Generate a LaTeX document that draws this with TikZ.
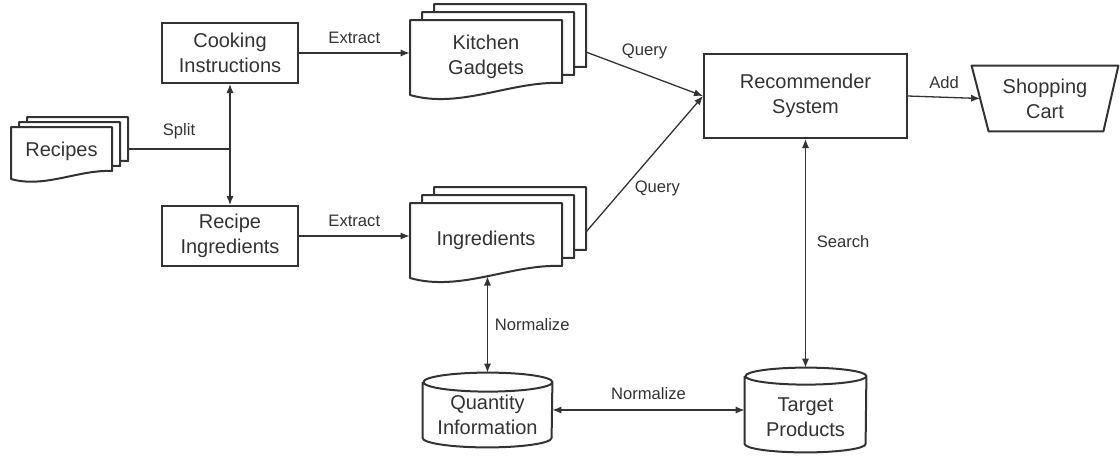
\documentclass[tikz,border=0pt]{standalone}
\usepackage{fontspec}
\setmainfont{Liberation Sans}
\usetikzlibrary{arrows.meta,calc,positioning}

\definecolor{ink}{HTML}{333333}
\newcommand{\boxfont}{\fontsize{10}{12.5}\selectfont}
\newcommand{\edgefont}{\fontsize{8.3}{10}\selectfont}

% one page of a document stack: x0, top, width, right side, wave rise
\newcommand{\docpage}[5]{%
  \draw[page] ({#1},{-(#2)}) -- ({#1+#3},{-(#2)}) -- ({#1+#3},{-(#2)-#4})
    .. controls ({#1+0.67*#3},{-(#2)-#4+0.2*#5}) and ({#1+0.33*#3},{-(#2)-#4-2.2*#5})
    .. ({#1},{-(#2)-#4-#5}) -- cycle;}

% database drum round a node: name, x radius, y radius
\newcommand{\dbshape}[3]{%
  \draw[page] ([yshift=-#3]#1.north west) -- ([yshift=#3]#1.south west)
    arc[start angle=180,end angle=360,x radius=#2,y radius=#3]
    -- ([yshift=-#3]#1.north east)
    arc[start angle=0,end angle=180,x radius=#2,y radius=#3]
    arc[start angle=180,end angle=360,x radius=#2,y radius=#3];}

\tikzset{
  page/.style={draw=ink, line width=1pt, fill=white, line join=round},
  box/.style={draw=ink, line width=1pt, text=ink, align=center, font=\boxfont,
    minimum width=68pt, minimum height=30pt, inner sep=0pt},
  txt/.style={text=ink, align=center, font=\boxfont, inner sep=0pt},
  flow/.style={draw=ink, line width=0.65pt, ->},
  lbl/.style={text=ink, font=\edgefont},
}

\begin{document}
\begin{tikzpicture}[x=0.5pt,y=0.5pt,>={Latex[length=4.5pt,width=3.6pt]}]
\useasboundingbox (0,0) rectangle (1120,-457);

% document stacks
\foreach \k in {2,1,0} {\docpage{11+8*\k}{127-5*\k}{101}{44}{8}}
\node[txt, minimum width=50.5pt] (recipes) at (61.5,-151) {Recipes};
\coordinate (recback) at (128,-149);

\foreach \k in {2,1,0} {\docpage{410+12*\k}{20-8*\k}{152}{63}{12}}
\node[txt, minimum width=76pt] (gadgets) at (486,-57) {Kitchen\\Gadgets};
\coordinate (gadback) at (586,-52);

\foreach \k in {2,1,0} {\docpage{410+12*\k}{203-8*\k}{152}{63}{12}}
\node[txt, minimum width=76pt] (ingr) at (486,-240) {Ingredients};
\coordinate (ingrback) at (586,-232);
\coordinate (ingrbot) at (487.5,-276.5);

% boxes
\node[box] (cook) at (230,-53) {Cooking\\Instructions};
\node[box] (ringr) at (230,-236) {Recipe\\Ingredients};
\node[box, minimum width=101.5pt, minimum height=42pt] (rec) at (805.5,-96) {Recommender\\System};

\node[txt, minimum width=73pt, minimum height=32.5pt] (cart) at (1045,-98.5) {Shopping\\Cart};
\draw[page, fill=none] (cart.north west) -- (cart.north east) -- ([xshift=-7.5pt]cart.south east)
  -- ([xshift=8.5pt]cart.south west) -- cycle;
\coordinate (cartin) at ($(cart.north west)!0.5!([xshift=8.5pt]cart.south west)$);

% databases
\node[txt, minimum width=64.5pt, minimum height=37pt] (qty) at (487.5,-410) {};
\dbshape{qty}{32.25pt}{4.75pt}
\node[txt] at ([yshift=-2.5pt]qty.center) {Quantity\\Information};
\node[txt, minimum width=60.5pt, minimum height=42pt] (tgt) at (805.5,-410) {};
\dbshape{tgt}{30.25pt}{4.25pt}
\node[txt] at ([yshift=-3.5pt]tgt.center) {Target\\Products};

% connectors
\coordinate (split) at (cook.south |- recback);
\draw[flow,-] (recback) -- (split) node[midway, above=1.5pt, lbl] {Split};
\draw[flow] (split) -- (cook.south);
\draw[flow] (split) -- (ringr.north);
\draw[flow] (cook.east) -- (cook.east -| gadgets.west) node[midway, above=1pt, lbl] {Extract};
\draw[flow] (ringr.east) -- (ringr.east -| ingr.west) node[midway, above=1pt, lbl] {Extract};
\draw[flow] (gadback) -- (rec.west) node[midway, above=4pt, lbl] {Query};
\draw[flow] (ingrback) -- (rec.west) node[pos=0.32, right=2pt, lbl] {Query};
\draw[flow] (rec.east) -- (cartin) node[midway, above=0.5pt, lbl] {Add};
\draw[flow,<->] (rec.south) -- (tgt.north) node[pos=0.45, right=2pt, lbl] {Search};
\draw[flow,<->] (ingrbot) -- (qty.north) node[midway, right, lbl] {Normalize};
\draw[flow,<->] (qty.east) -- (tgt.west) node[midway, above=1.5pt, lbl] {Normalize};
\end{tikzpicture}
\end{document}
